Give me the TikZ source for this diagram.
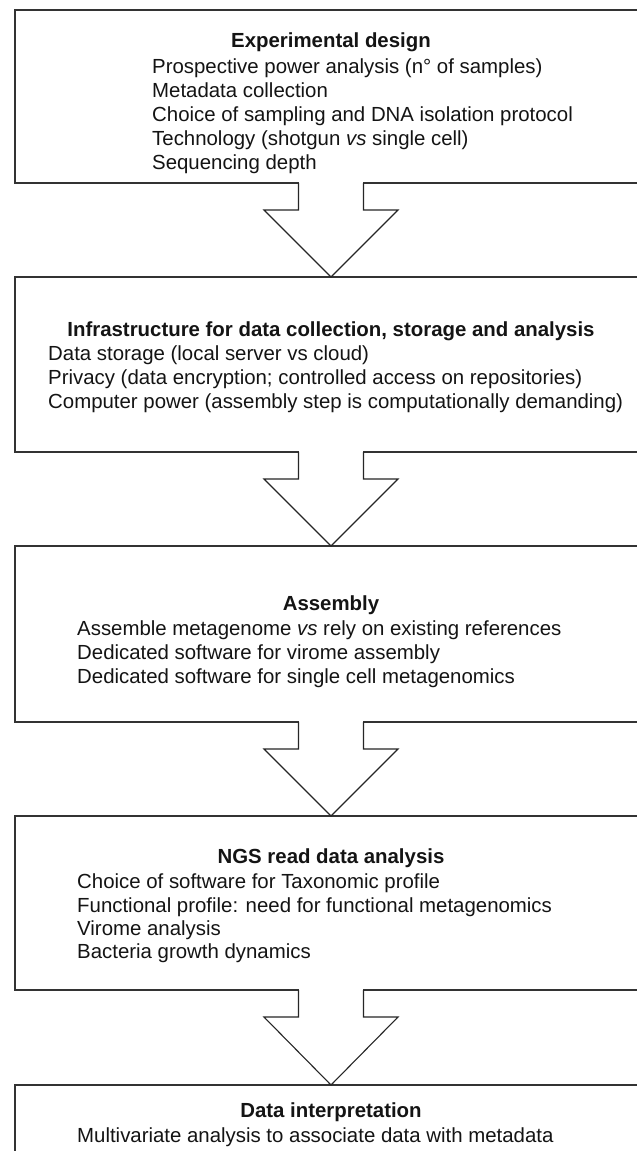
\documentclass[tikz,border=0pt]{standalone}
\usepackage{fontspec}
\setmainfont{Liberation Sans}
\usetikzlibrary{calc}
\newcommand\stagearrow[2]{%
  \fill[white] ($(#1.south west)+(284.3,-2)$) rectangle ($(#1.south west)+(347.7,2)$);
  \draw[blockarrow] ($(#1.south west)+(283.5,0)$) -- ++(0,27) -- ++(-34.5,0)
    -- ($(#2.north west)+(316,0)$) -- ($(#1.south west)+(383,27)$) -- ++(-34.5,0) -- ++(0,-27);
}
\begin{document}
\begin{tikzpicture}[x=1pt,y=-1pt,
  stage/.style={draw=black!80, line width=1.4pt, inner sep=0pt, outer sep=0pt, anchor=north west, minimum width=660pt},
  ttl/.style={font=\fontsize{20.4}{24}\selectfont\bfseries, text=black!92, anchor=base, inner sep=0pt},
  itm/.style={font=\fontsize{20.4}{24}\selectfont, text=black!92, anchor=base west, inner sep=0pt},
  blockarrow/.style={draw=black!85, line width=1.1pt, line join=miter}]
\clip (0,0) rectangle (637,1151);
\fill[white] (0,0) rectangle (637,1151);

\node[stage, minimum height=173pt] (b1) at (15,10) {};
\node[stage, minimum height=175pt] (b2) at (15,277) {};
\node[stage, minimum height=176pt] (b3) at (15,546) {};
\node[stage, minimum height=174pt] (b4) at (15,816) {};
\node[stage, minimum height=120pt] (b5) at (15,1085) {};

\stagearrow{b1}{b2}
\stagearrow{b2}{b3}
\stagearrow{b3}{b4}
\stagearrow{b4}{b5}

\node[ttl] (t1) at (331,47) {Experimental design};
\node[itm] (t1a) at (152,73) {Prospective power analysis (n° of samples)};
\node[itm] (t1b) at (152,97) {Metadata collection};
\node[itm] (t1c) at (152,121) {Choice of sampling and DNA isolation protocol};
\node[itm] (t1d) at (152,145) {Technology (shotgun \textit{vs} single cell)};
\node[itm] (t1e) at (152,169) {Sequencing depth};

\node[ttl] (t2) at (331,336) {Infrastructure for data collection, storage and analysis};
\node[itm] (t2a) at (48,360) {Data storage (local server vs cloud)};
\node[itm] (t2b) at (48,384) {Privacy (data encryption; controlled access on repositories)};
\node[itm] (t2c) at (48,408) {Computer power (assembly step is computationally demanding)};

\node[ttl] (t3) at (331,610) {Assembly};
\node[itm] (t3a) at (77,635) {Assemble metagenome \textit{vs} rely on existing references};
\node[itm] (t3b) at (77,659) {Dedicated software for virome assembly};
\node[itm] (t3c) at (77,683) {Dedicated software for single cell metagenomics};

\node[ttl] (t4) at (331,863) {NGS read data analysis};
\node[itm] (t4a) at (77,888) {Choice of software for Taxonomic profile};
\node[itm] (t4b) at (77,912) {Functional profile: need for functional metagenomics};
\node[itm] (t4c) at (77,935) {Virome analysis};
\node[itm] (t4d) at (77,958) {Bacteria growth dynamics};

\node[ttl] (t5) at (331,1117) {Data interpretation};
\node[itm] (t5a) at (77,1142) {Multivariate analysis to associate data with metadata};
\end{tikzpicture}
\end{document}
